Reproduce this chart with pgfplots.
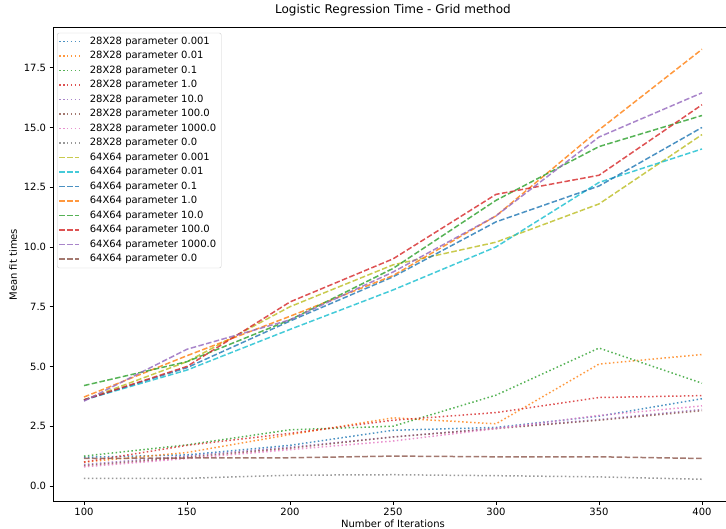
\documentclass[border=0pt]{standalone}
\usepackage{fontspec}
\setmainfont{DejaVu Sans}
\usepackage{pgfplots}
\usepackage{pgfplotstable}
\pgfplotsset{compat=1.18}

% matplotlib tab10
\definecolor{tblue}{HTML}{1F77B4}
\definecolor{torange}{HTML}{FF7F0E}
\definecolor{tgreen}{HTML}{2CA02C}
\definecolor{tred}{HTML}{D62728}
\definecolor{tpurple}{HTML}{9467BD}
\definecolor{tbrown}{HTML}{8C564B}
\definecolor{tpink}{HTML}{E377C2}
\definecolor{tgray}{HTML}{7F7F7F}
\definecolor{tolive}{HTML}{BCBD22}
\definecolor{tcyan}{HTML}{17BECF}

% 28X28 images, mean fit time per parameter
\pgfplotstableread{
iter pA    pB    pC    pD    pE    pF    pG    pH
100  1.20  1.00  1.25  1.00  0.90  0.85  0.80  0.32
150  1.30  1.40  1.72  1.70  1.25  1.20  1.15  0.32
200  1.70  2.15  2.35  2.20  1.62  1.58  1.52  0.45
250  2.33  2.85  2.50  2.75  2.05  2.05  1.88  0.47
300  2.45  2.60  3.80  3.07  2.42  2.40  2.40  0.43
350  2.92  5.10  5.77  3.70  2.78  2.75  2.95  0.38
400  3.65  5.50  4.30  3.78  3.20  3.15  3.35  0.28
}\smalltab

% 64X64 images
\pgfplotstableread{
iter pA    pB    pC    pD    pE    pF    pG    pH
100  3.60  3.60  3.60  3.72  4.20  3.60  3.55  1.15
150  5.20  4.85  4.95  5.45  5.20  5.00  5.72  1.17
200  7.50  6.55  6.90  7.10  6.95  7.70  6.95  1.18
250  9.25  8.20  8.75  8.80  9.10  9.50  8.95  1.25
300  10.20 10.00 11.05 11.30 11.95 12.20 11.30 1.22
350  11.80 12.70 12.55 14.90 14.20 13.00 14.60 1.22
400  14.70 14.10 15.00 18.27 15.50 15.95 16.45 1.15
}\bigtab

\tikzset{
  dot28/.style={line width=1.5pt, dash pattern=on 1.5pt off 2.475pt, opacity=0.8},
  dash64/.style={line width=1.5pt, dash pattern=on 5.55pt off 2.4pt, opacity=0.8},
}

\begin{document}
\begin{tikzpicture}
\begin{axis}[
  name=ax,
  scale only axis,
  width=672.9pt, height=473.7pt,
  xmin=85, xmax=411.65, ymin=-0.65, ymax=19.17,
  axis x line*=box, axis y line*=left,
  xtick={100,150,...,400},
  ytick={0,2.5,5,7.5,10,12.5,15,17.5},
  xtick pos=left, ytick pos=left,
  tick align=outside, major tick length=3.5pt,
  tick style={black, line width=0.8pt},
  axis line style={line width=0.8pt, black},
  ticklabel style={font=\fontsize{10}{12}\selectfont},
  /pgf/number format/assume math mode=true,
  yticklabel style={/pgf/number format/.cd, fixed, fixed zerofill, precision=1},
  title={Logistic Regression Time - Grid method},
  title style={font=\fontsize{12}{14}\selectfont, at={(axis description cs:0.505,1)}, anchor=south, inner sep=0pt, yshift=6pt},
  xlabel={Number of Iterations},
  xlabel style={font=\fontsize{10}{12}\selectfont, at={(axis description cs:0.505,0)}, anchor=base, inner sep=0pt, yshift=-26pt},
  ylabel={Mean fit times},
  ylabel style={font=\fontsize{10}{12}\selectfont},
  legend cell align=left,
  legend image code/.code={\draw[#1] (0pt,0pt) -- (20pt,0pt);},
  legend style={at={(axis description cs:0,1)}, anchor=north west, xshift=4pt, yshift=-5pt,
    draw=black!20, rounded corners=2pt, fill=white, fill opacity=0.8, text opacity=1,
    font=\fontsize{10}{12}\selectfont, inner xsep=1pt, inner ysep=1.5pt, row sep=0pt, column sep=6pt,
    nodes={inner xsep=4pt, inner ysep=2.25pt, text height=7.5pt, text depth=2.5pt}},
]
\addplot[dot28, tblue]   table[x=iter, y=pA] {\smalltab};
\addlegendentry{28X28 parameter 0.001}
\addplot[dot28, torange] table[x=iter, y=pB] {\smalltab};
\addlegendentry{28X28 parameter 0.01}
\addplot[dot28, tgreen]  table[x=iter, y=pC] {\smalltab};
\addlegendentry{28X28 parameter 0.1}
\addplot[dot28, tred]    table[x=iter, y=pD] {\smalltab};
\addlegendentry{28X28 parameter 1.0}
\addplot[dot28, tpurple] table[x=iter, y=pE] {\smalltab};
\addlegendentry{28X28 parameter 10.0}
\addplot[dot28, tbrown]  table[x=iter, y=pF] {\smalltab};
\addlegendentry{28X28 parameter 100.0}
\addplot[dot28, tpink]   table[x=iter, y=pG] {\smalltab};
\addlegendentry{28X28 parameter 1000.0}
\addplot[dot28, tgray]   table[x=iter, y=pH] {\smalltab};
\addlegendentry{28X28 parameter 0.0}
\addplot[dash64, tolive]  table[x=iter, y=pA] {\bigtab};
\addlegendentry{64X64 parameter 0.001}
\addplot[dash64, tcyan]   table[x=iter, y=pB] {\bigtab};
\addlegendentry{64X64 parameter 0.01}
\addplot[dash64, tblue]   table[x=iter, y=pC] {\bigtab};
\addlegendentry{64X64 parameter 0.1}
\addplot[dash64, torange] table[x=iter, y=pD] {\bigtab};
\addlegendentry{64X64 parameter 1.0}
\addplot[dash64, tgreen]  table[x=iter, y=pE] {\bigtab};
\addlegendentry{64X64 parameter 10.0}
\addplot[dash64, tred]    table[x=iter, y=pF] {\bigtab};
\addlegendentry{64X64 parameter 100.0}
\addplot[dash64, tpurple] table[x=iter, y=pG] {\bigtab};
\addlegendentry{64X64 parameter 1000.0}
\addplot[dash64, tbrown]  table[x=iter, y=pH] {\bigtab};
\addlegendentry{64X64 parameter 0.0}
\end{axis}
\pgfresetboundingbox
\path[use as bounding box] ([xshift=-53.1pt,yshift=-27.5pt]ax.south west) rectangle ([yshift=27.8pt]ax.north east);
\end{tikzpicture}
\end{document}
